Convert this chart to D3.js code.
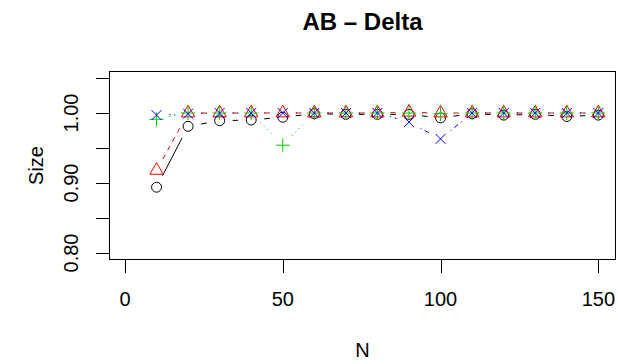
<!DOCTYPE html>
<html>
<head>
<meta charset="utf-8">
<script src="https://cdn.jsdelivr.net/npm/d3@7"></script>
<style>
  body { margin: 0; background: #fff; }
  text { font-family: "Liberation Sans", Arial, sans-serif; }
</style>
</head>
<body>
<div class="chart"></div>
<script>
// sample sizes
const N = [10, 20, 30, 40, 50, 60, 70, 80, 90, 100, 110, 120, 130, 140, 150]

// empirical size, one array per method
const sizeBlack = [0.894, 0.981, 0.989, 0.990, 0.994, 0.999, 0.998, 0.998, 0.998, 0.993, 0.999, 0.997, 0.998, 0.995, 0.997]
const sizeRed   = [0.918, 1.000, 1.000, 1.000, 1.000, 1.000, 1.000, 1.000, 1.001, 1.000, 1.000, 1.000, 1.000, 1.000, 1.000]
const sizeGreen = [0.991, 1.000, 1.000, 1.000, 0.954, 1.000, 1.000, 1.000, 1.000, 0.999, 1.000, 1.000, 1.000, 1.000, 1.000]
const sizeBlue  = [0.997, 0.999, 1.000, 1.000, 1.000, 1.000, 1.000, 1.000, 0.987, 0.963, 1.000, 1.000, 1.000, 1.000, 1.000]

const xTicks = [0, 50, 100, 150]
const yTicks = [0.80, 0.85, 0.90, 0.95, 1.00, 1.05]
const yLabels = ["0.80", "", "0.90", "", "1.00", ""]

let width = 618
let height = 364

let svg = d3.select(".chart")
    .append("svg")
    .attr("width", width)
    .attr("height", height)

// plot region (R style box)
let x = d3.scaleLinear().domain([-5.07, 155.6]).range([109, 616])
let y = d3.scaleLinear().domain([0.79, 1.06]).range([260, 71])

// series: colour, dash and pch like R's defaults 1..4
let series = [
    {values: sizeBlack, color: "#000000", dash: null, pch: 1},
    {values: sizeRed, color: "#FF0000", dash: "5,5", pch: 2},
    {values: sizeGreen, color: "#00CD00", dash: "1.2,3.6", pch: 3},
    {values: sizeBlue, color: "#0000FF", dash: "1.2,3.6,4.8,3.6", pch: 4}
]

let gap = 13   // type = "b" leaves a gap round each point
let s = 13.3   // symbol size

series.forEach(function (ser) {
    let pts = N.map(function (n, i) { return [x(n), y(ser.values[i])] })
    let g = svg.append("g")

    for (let i = 0; i < pts.length - 1; i++) {
        let dx = pts[i + 1][0] - pts[i][0]
        let dy = pts[i + 1][1] - pts[i][1]
        let len = Math.sqrt(dx * dx + dy * dy)
        let f = gap / len
        if (f >= 0.5) continue
        g.append("line")
            .attr("x1", pts[i][0] + f * dx)
            .attr("y1", pts[i][1] + f * dy)
            .attr("x2", pts[i + 1][0] - f * dx)
            .attr("y2", pts[i + 1][1] - f * dy)
            .attr("stroke", ser.color)
            .attr("stroke-width", 1)
            .attr("stroke-dasharray", ser.dash)
    }

    pts.forEach(function (p) {
        let px = p[0], py = p[1]
        if (ser.pch === 1) {
            g.append("circle")
                .attr("cx", px).attr("cy", py)
                .attr("r", 0.375 * s)
                .attr("fill", "none")
                .attr("stroke", ser.color)
        } else if (ser.pch === 2) {
            let xc = 0.375 * s
            let r = 1.5551 * xc, yc = 0.7776 * xc, xw = 1.3468 * xc
            g.append("path")
                .attr("d", "M" + px + "," + (py - r) + "L" + (px + xw) + "," + (py + yc) + "L" + (px - xw) + "," + (py + yc) + "Z")
                .attr("fill", "none")
                .attr("stroke", ser.color)
        } else if (ser.pch === 3) {
            let xc = Math.SQRT2 * 0.375 * s
            g.append("path")
                .attr("d", "M" + (px - xc) + "," + py + "H" + (px + xc) + "M" + px + "," + (py - xc) + "V" + (py + xc))
                .attr("stroke", ser.color)
        } else {
            let xc = 0.375 * s
            g.append("path")
                .attr("d", "M" + (px - xc) + "," + (py - xc) + "L" + (px + xc) + "," + (py + xc) +
                    "M" + (px - xc) + "," + (py + xc) + "L" + (px + xc) + "," + (py - xc))
                .attr("stroke", ser.color)
        }
    })
})

// box
svg.append("rect")
    .attr("x", 109.5).attr("y", 71.5)
    .attr("width", 506).attr("height", 188)
    .attr("fill", "none")
    .attr("stroke", "black")
    .attr("stroke-width", 1)

// x axis
let xAxis = svg.append("g")
xAxis.selectAll("line")
    .data(xTicks)
    .enter()
    .append("line")
    .attr("x1", function (d) { return Math.round(x(d)) + 0.5 })
    .attr("x2", function (d) { return Math.round(x(d)) + 0.5 })
    .attr("y1", 260).attr("y2", 273)
    .attr("stroke", "black")
xAxis.selectAll("text")
    .data(xTicks)
    .enter()
    .append("text")
    .attr("x", function (d) { return x(d) })
    .attr("y", 306)
    .attr("text-anchor", "middle")
    .style("font-size", "20px")
    .text(function (d) { return d })

// y axis
let yAxis = svg.append("g")
yAxis.selectAll("line")
    .data(yTicks)
    .enter()
    .append("line")
    .attr("y1", function (d) { return Math.round(y(d)) + 0.5 })
    .attr("y2", function (d) { return Math.round(y(d)) + 0.5 })
    .attr("x1", 96).attr("x2", 109)
    .attr("stroke", "black")
yAxis.selectAll("text")
    .data(yTicks)
    .enter()
    .append("text")
    .attr("transform", function (d) { return "translate(78," + y(d) + ") rotate(-90)" })
    .attr("text-anchor", "middle")
    .style("font-size", "20px")
    .text(function (d, i) { return yLabels[i] })

// labels
svg.append("text")
    .attr("x", 362.5).attr("y", 357)
    .attr("text-anchor", "middle")
    .style("font-size", "20px")
    .text("N")

svg.append("text")
    .attr("transform", "translate(43,165.5) rotate(-90)")
    .attr("text-anchor", "middle")
    .style("font-size", "20px")
    .text("Size")

svg.append("text")
    .attr("x", 362.5).attr("y", 30)
    .attr("text-anchor", "middle")
    .style("font-size", "24px")
    .style("font-weight", "bold")
    .text("AB \u2013 Delta")
</script>
</body>
</html>
